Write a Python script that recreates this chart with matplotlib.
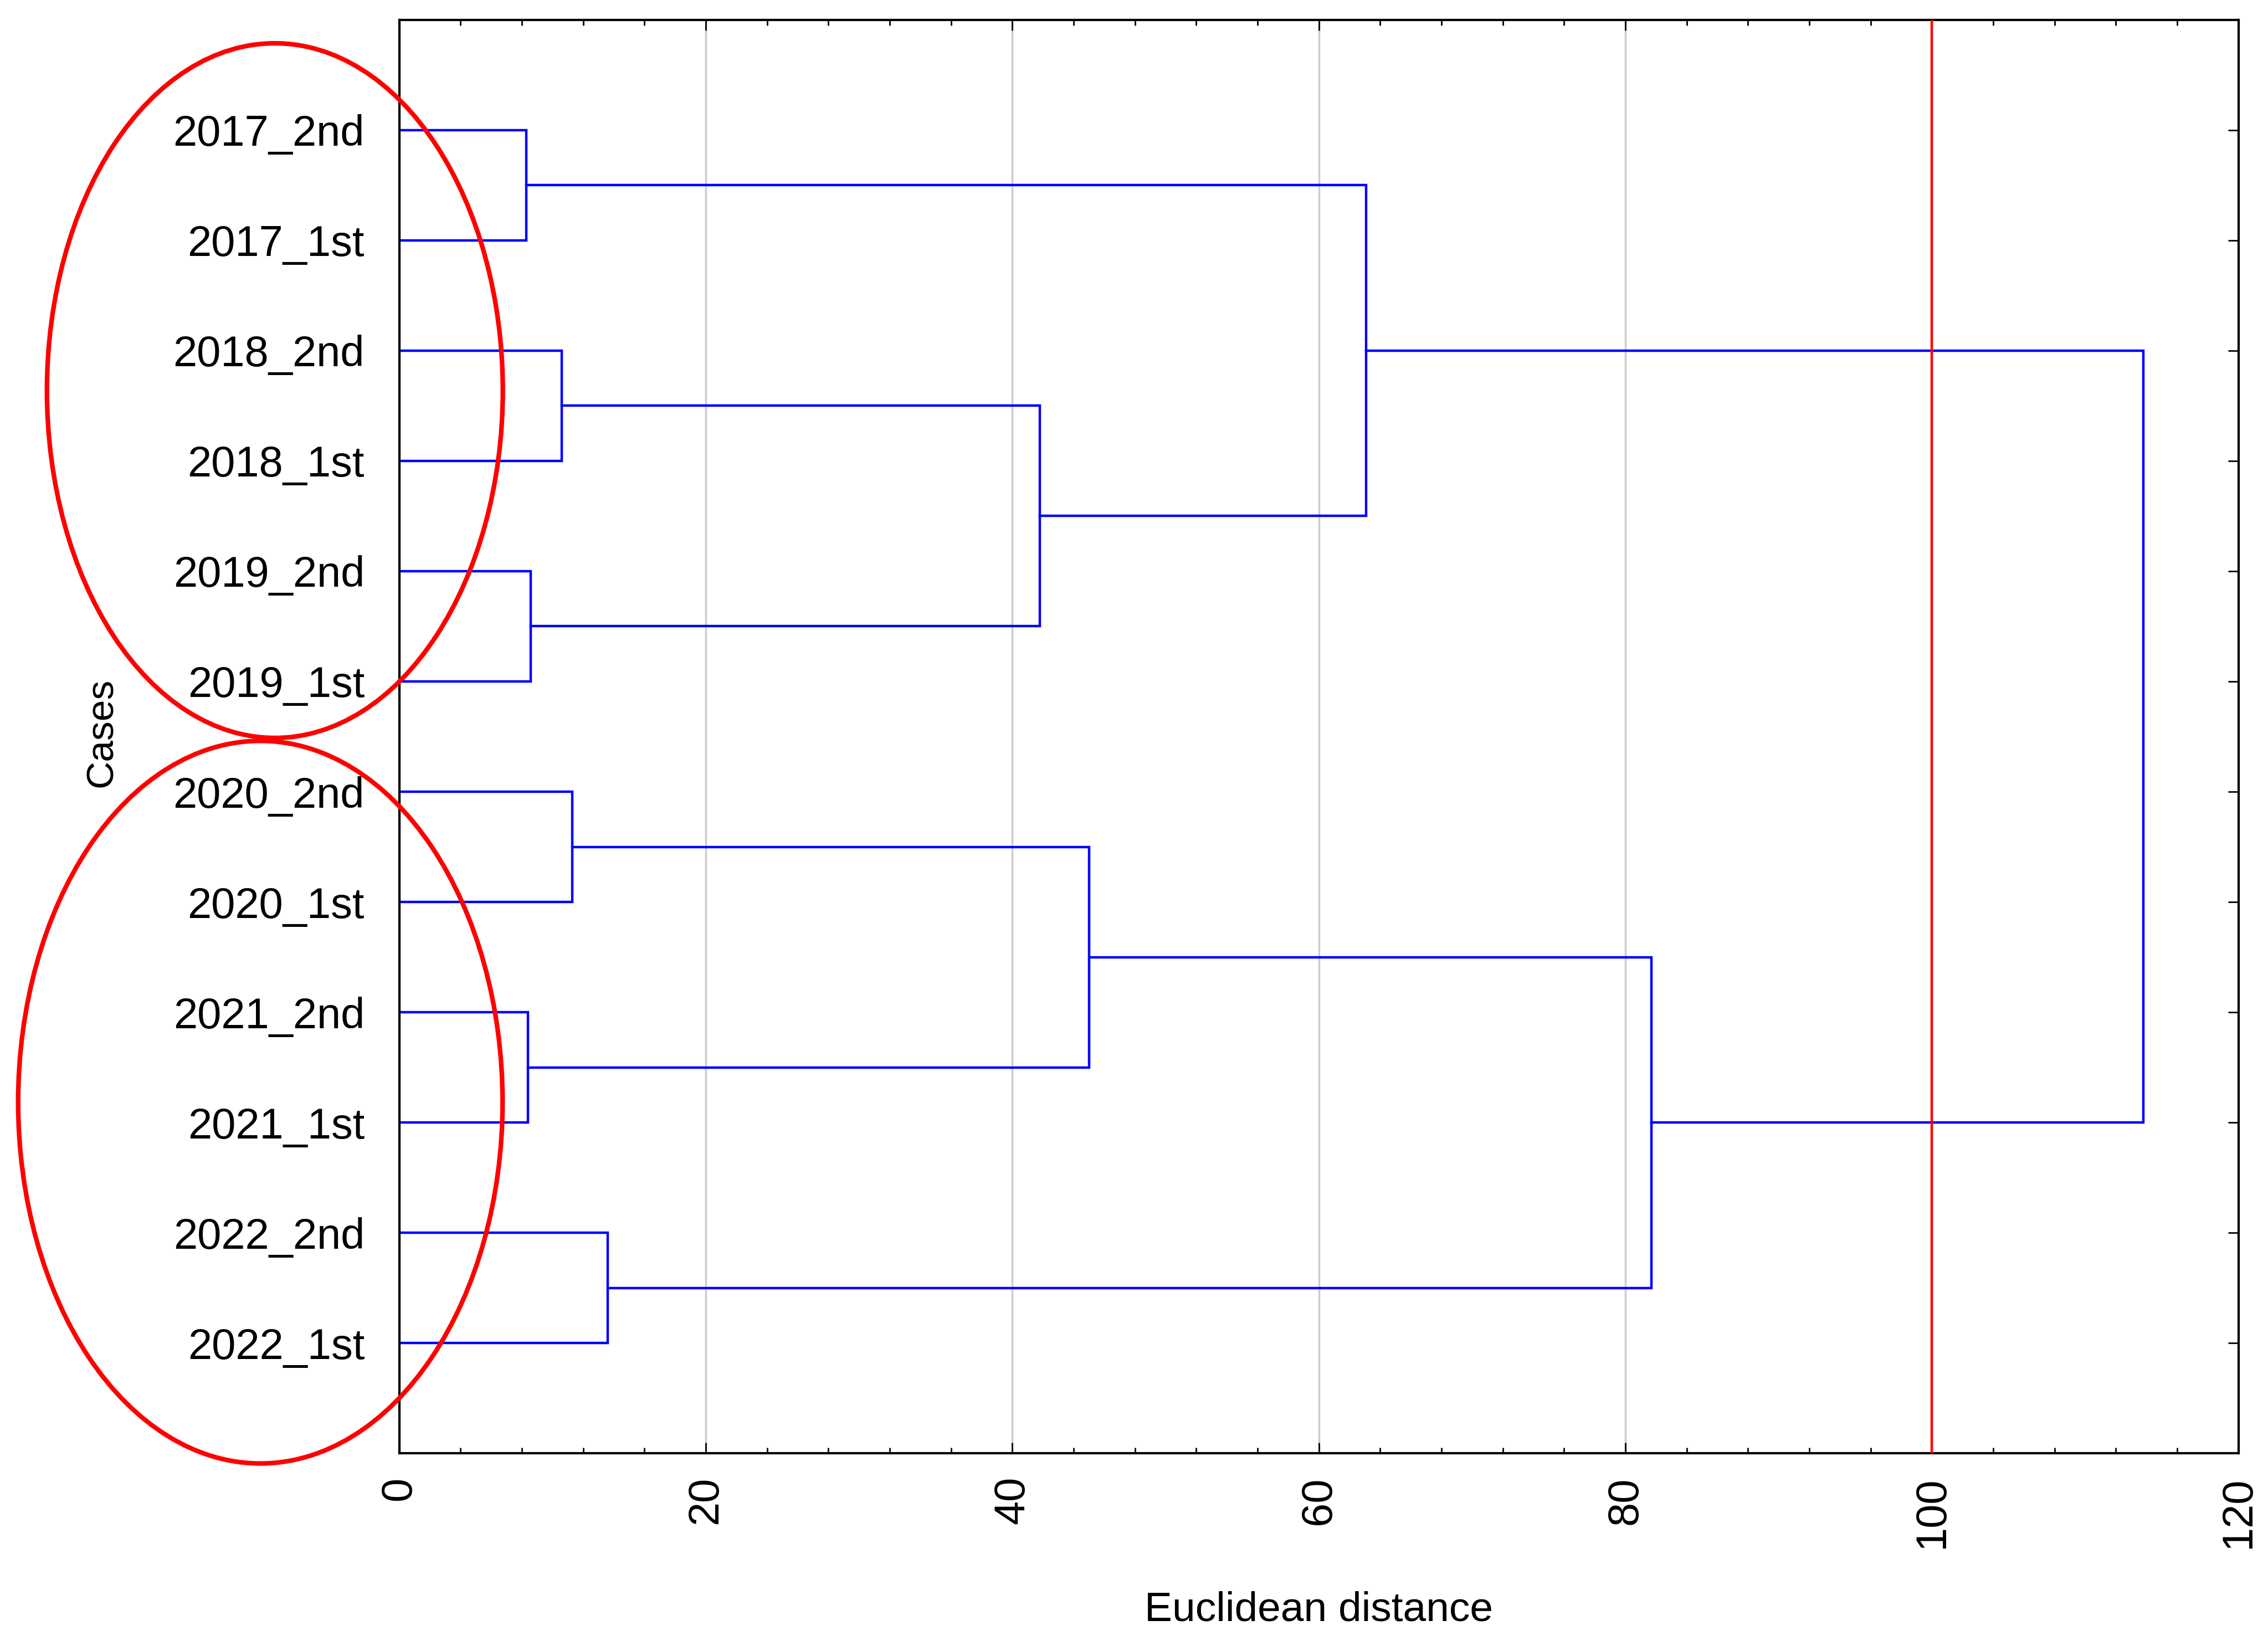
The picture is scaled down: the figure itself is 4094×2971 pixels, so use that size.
import matplotlib
matplotlib.use("Agg")
import matplotlib.pyplot as plt
from matplotlib.patches import Ellipse
from matplotlib.ticker import MultipleLocator

labels = ["2017_2nd", "2017_1st", "2018_2nd", "2018_1st", "2019_2nd", "2019_1st",
          "2020_2nd", "2020_1st", "2021_2nd", "2021_1st", "2022_2nd", "2022_1st"]
# merges: (cluster a, cluster b, distance); leaves 0..11, new clusters 12..
merges = [(0, 1, 8.3), (2, 3, 10.6), (4, 5, 8.6), (13, 14, 41.8), (12, 15, 63.1),
          (6, 7, 11.3), (8, 9, 8.4), (17, 18, 45.0), (10, 11, 13.6), (19, 20, 81.7),
          (16, 21, 113.8)]
xticks = [0, 20, 40, 60, 80, 100, 120]
cut_distance = 100

plt.rcParams['font.family'] = ['Liberation Sans', 'DejaVu Sans']
fig = plt.figure(figsize=(40.94, 29.71), dpi=100)
ax = fig.add_axes([0.176, 0.117, 0.811, 0.871])

pos = {i: (i + 1, 0.0) for i in range(len(labels))}
nid = len(labels)
for a, b, d in merges:
    ya, xa = pos[a]; yb, xb = pos[b]
    ax.plot([xa, d, d, xb], [ya, ya, yb, yb], color='#0000ff', lw=3.2, solid_joinstyle='miter')
    pos[nid] = ((ya + yb) / 2, d)
    nid += 1

ax.axvline(cut_distance, color='#ff0000', lw=3.2, zorder=3)
ax.set_xlim(0, 120)
ax.set_ylim(13, 0)
ax.set_yticks(range(1, len(labels) + 1))
ax.set_yticklabels(labels)
ax.set_xticks(xticks)
ax.set_xticklabels([str(v) for v in xticks], rotation=90)
ax.xaxis.set_minor_locator(MultipleLocator(4))
ax.grid(axis='x', which='major', color='#cccccc', lw=2.5, zorder=0)
ax.tick_params(which='both', direction='in', top=True, right=True, labelsize=56,
               length=14, width=2)
ax.tick_params(which='minor', length=7)
ax.tick_params(axis='y', pad=45)
ax.tick_params(axis='x', pad=30)
for s in ax.spines.values():
    s.set_linewidth(3)
ax.set_xlabel("Euclidean distance", fontsize=54, labelpad=55)
fig.text(0.045, 0.555, "Cases", rotation=90, fontsize=50, ha='center', va='center')

for cx, cy, w, h in [(0.1212, 0.7627, 0.201, 0.422), (0.1148, 0.3304, 0.2136, 0.439)]:
    fig.add_artist(Ellipse((cx, cy), w, h, transform=fig.transFigure, fill=False,
                           edgecolor='#ff0000', lw=6, zorder=10))

fig.savefig("out.png", dpi=100, facecolor='white')
